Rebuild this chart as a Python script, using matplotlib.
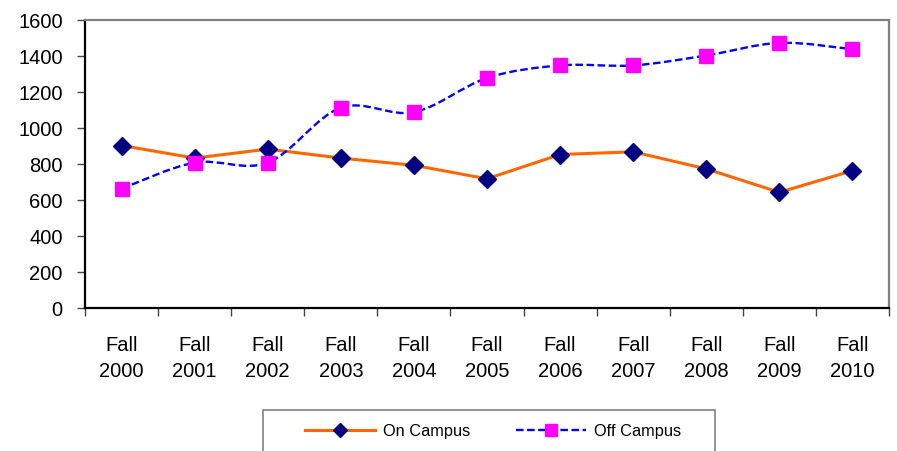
import numpy as np
import matplotlib.pyplot as plt
from matplotlib.path import Path
from matplotlib.patches import PathPatch, Rectangle
from matplotlib.lines import Line2D

plt.rcParams['font.family'] = ['Liberation Sans', 'DejaVu Sans']

# data
years = ["2000", "2001", "2002", "2003", "2004", "2005",
         "2006", "2007", "2008", "2009", "2010"]
labels = ["Fall\n" + y for y in years]
on_campus = [900, 830, 880, 830, 790, 715, 850, 865, 770, 640, 760]
off_campus = [660, 805, 805, 1110, 1085, 1275, 1345, 1345, 1400, 1470, 1435]
y_ticks = [0, 200, 400, 600, 800, 1000, 1200, 1400, 1600]


def smooth_path(xs, ys):
    # Excel-style smoothed line: cubic bezier, catmull-rom control points
    pts = np.column_stack([xs, ys]).astype(float)
    n = len(pts)
    verts = [pts[0]]
    codes = [Path.MOVETO]
    for i in range(n - 1):
        p0 = pts[max(i - 1, 0)]
        p1 = pts[i]
        p2 = pts[i + 1]
        p3 = pts[min(i + 2, n - 1)]
        verts += [p1 + (p2 - p0) / 6, p2 - (p3 - p1) / 6, p2]
        codes += [Path.CURVE4] * 3
    return Path(verts, codes)


fig = plt.figure(figsize=(8.97, 4.52), dpi=100)
ax = fig.add_axes([85 / 897, 1 - 308.5 / 452, (889 - 85) / 897, (308.5 - 20.5) / 452])

x = np.arange(len(years))
dash = (0, (3.2, 1.5))

# on campus: straight orange line with navy diamonds
ax.plot(x, on_campus, color='#FF6600', lw=2.2, zorder=3)
ax.plot(x, on_campus, ls='none', marker='D', ms=9, color='#000080',
        mec='#000080', zorder=4)

# off campus: smoothed dashed blue line with magenta squares
ax.add_patch(PathPatch(smooth_path(x, off_campus), fill=False, edgecolor='#0000FF',
                       lw=1.7, ls=dash, zorder=3))
ax.plot(x, off_campus, ls='none', marker='s', ms=10.5, color='#FF00FF',
        mec='#FF00FF', zorder=4)

ax.set_xlim(-0.5, len(years) - 0.5)
ax.set_ylim(0, 1600)
ax.set_yticks(y_ticks)

# tick marks between categories, labels centred
ax.set_xticks(np.arange(len(years) + 1) - 0.5)
ax.set_xticklabels([])
ax.set_xticks(x, minor=True)
ax.set_xticklabels(labels, minor=True, fontsize=14.5, linespacing=1.45)
ax.tick_params(axis='x', which='major', length=6, width=1, color='#444444')
ax.tick_params(axis='x', which='minor', length=0, pad=20)
ax.tick_params(axis='y', length=6, width=1, color='#444444', pad=10, labelsize=14.5)

for side in ['left', 'bottom']:
    ax.spines[side].set_color('#000000')
    ax.spines[side].set_linewidth(1.6)
for side in ['top', 'right']:
    ax.spines[side].set_color('#808080')
    ax.spines[side].set_linewidth(1.6)

# legend box at the bottom
fig.patches.append(Rectangle((263 / 897, -0.05), (715 - 263) / 897, (452 - 411) / 452 + 0.05,
                             transform=fig.transFigure, fill=False,
                             edgecolor='#808080', lw=1.2))
handles = [
    Line2D([], [], color='#FF6600', lw=2.2, marker='D', ms=7,
           mfc='#000080', mec='#000080'),
    Line2D([], [], color='#0000FF', lw=1.7, ls=dash, marker='s', ms=8,
           mfc='#FF00FF', mec='#FF00FF'),
]
fig.legend(handles, ['On Campus', 'Off Campus'], loc='center', ncol=2,
           bbox_to_anchor=(493 / 897, 1 - 432 / 452), frameon=False,
           fontsize=11.8, handlelength=4.3, handletextpad=0.45, columnspacing=2.8)

fig.savefig('out.png', dpi=100)
